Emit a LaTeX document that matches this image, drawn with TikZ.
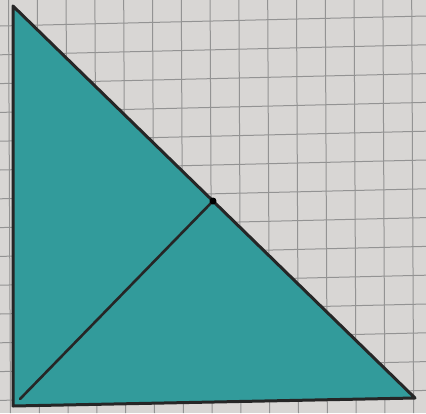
\documentclass[tikz,border=0pt]{standalone}
\begin{document}
\begin{tikzpicture}[x=1pt,y=-1pt,
  gridline/.style={draw=gray!85,line width=1pt},
  pencil/.style={draw=black!85,line width=3pt,line cap=round,line join=round}]
\definecolor{paper}{RGB}{216,214,212}
\definecolor{teal}{RGB}{50,155,155}
\useasboundingbox (0,0) rectangle (426,413);
\fill[paper] (0,0) rectangle (426,413);
\foreach \i in {-1,...,15} {
  \draw[gridline] ({8.5+28.8*\i},0) -- ({10.5+28.8*\i},413);
  \draw[gridline] (0,{26+28.8*\i}) -- (426,{16+28.8*\i});
}
\coordinate (A) at (13,6);
\coordinate (B) at (13,406);
\coordinate (C) at (415,398);
\coordinate (M) at (213,201);
\coordinate (D) at (20,399);
\fill[teal] (A) -- (B) -- (C) -- cycle;
\draw[pencil] (A) -- (B) -- (C) -- cycle;
\draw[pencil,line width=2.6pt] (D) -- (M);
\fill[black] (M) circle (3.5);
\end{tikzpicture}
\end{document}
